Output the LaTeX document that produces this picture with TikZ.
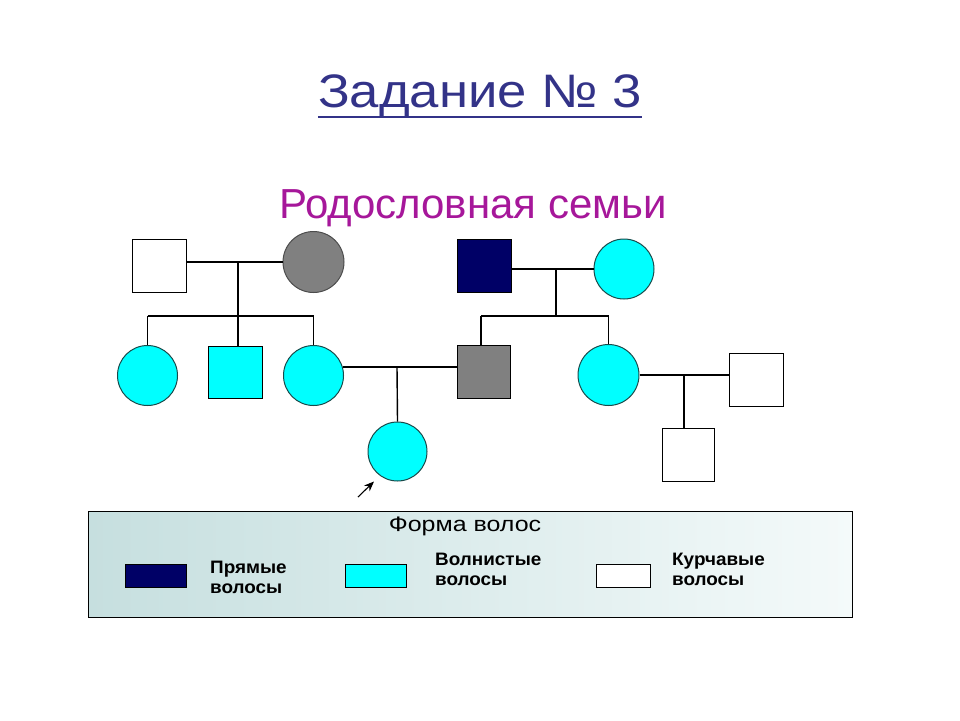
\documentclass[tikz,border=0pt]{standalone}
\usepackage{fontspec}
\setmainfont{Liberation Sans}
\newfontfamily\titlefont[FakeStretch=1.12]{Liberation Sans}
\newfontfamily\headfont[FakeStretch=1.19]{Liberation Sans}
\newfontfamily\labfont[FakeStretch=1.05]{Liberation Sans}
\usetikzlibrary{arrows.meta}
\definecolor{titleblue}{HTML}{333388}
\definecolor{submag}{HTML}{A6179A}
\definecolor{cyanf}{HTML}{00FFFF}
\definecolor{grayf}{HTML}{808080}
\definecolor{navyf}{HTML}{000066}
\definecolor{circedge}{HTML}{1A4A4A}
\definecolor{legL}{HTML}{C6DFDF}
\definecolor{legR}{HTML}{F4FAFA}
\tikzset{
  sq/.style={rectangle, draw=black, line width=1pt, minimum width=54pt, minimum height=53pt, inner sep=0pt},
  circ/.style={circle, draw=circedge, line width=1pt, minimum size=60pt, inner sep=0pt},
  link/.style={draw=black, line width=1.4pt},
  legsw/.style={rectangle, draw=black, line width=0.8pt, minimum width=61pt, minimum height=23pt, inner sep=0pt},
  legtxt/.style={anchor=base west, align=left, font=\labfont\fontsize{18}{19.5}\selectfont\bfseries, inner sep=0pt}
}
\begin{document}
\begin{tikzpicture}[x=1pt,y=-1pt]
\useasboundingbox (0,0) rectangle (960,720);
% titles
\node[anchor=base, text=titleblue, inner sep=0pt, font=\titlefont\fontsize{47}{50}\selectfont] (title) at (480,107) {Задание № 3};
\draw[titleblue, line width=2.8pt] (title.west |- 0,117) -- (title.east |- 0,117);
\node[anchor=base, text=submag, inner sep=0pt, font=\fontsize{42}{44}\selectfont] (sub) at (473,218) {Родословная семьи};
% generation 1
\node[sq, fill=white] (f1) at (159,265.5) {};
\node[circ, fill=grayf, draw=black!70, minimum size=61pt] (m1) at (313.5,262) {};
\node[sq, fill=navyf] (f2) at (484,266) {};
\node[circ, fill=cyanf] (m2) at (624,269) {};
% generation 2
\node[circ, fill=cyanf] (c1) at (147.5,375.5) {};
\node[sq, fill=cyanf, minimum height=52pt] (c2) at (235,372) {};
\node[circ, fill=cyanf] (c3) at (313.5,375.5) {};
\node[sq, fill=grayf, minimum width=53pt] (g) at (483.5,371.5) {};
\node[circ, fill=cyanf, minimum size=61pt] (c4) at (608.5,375) {};
\node[sq, fill=white] (h) at (756,379.5) {};
% generation 3
\node[circ, fill=cyanf, minimum size=59pt] (ch) at (397.5,451.5) {};
\node[sq, fill=white, minimum width=52pt] (k) at (688,454.5) {};
% connector points
\coordinate (d1) at (238,262);
\coordinate (b1) at (238,316);
\coordinate (d2) at (556,269);
\coordinate (b2) at (556,316);
\coordinate (gtop) at (481,316);
\coordinate (d3) at (397,367);
\coordinate (d4) at (684,375);
% marriage 1
\draw[link] (f1.east |- m1.west) -- (m1.west);
\draw[link] (d1) -- (b1);
\draw[link] (c1.north |- b1) -- (c3.north |- b1);
\draw[link] (c1.north |- b1) -- (c1.north);
\draw[link] (b1) -- (b1 |- c2.north);
\draw[link] (c3.north |- b1) -- (c3.north);
% marriage 2
\draw[link] (m2.west -| f2.east) -- (m2.west);
\draw[link] (d2) -- (b2);
\draw[link] (gtop) -- (c4.north |- b2);
\draw[link] (gtop) -- (gtop |- g.north);
\draw[link] (c4.north |- b2) -- (c4.north);
% marriage 3
\draw[link] (c3.16) -- (c3.16 -| g.west);
\draw[link] (d3) -- (ch.north);
% marriage 4
\draw[link] (c4.east) -- (c4.east -| h.west);
\draw[link] (d4) -- (d4 |- k.north);
% arrow
\coordinate (a0) at (358,497);
\coordinate (a1) at (374,481.5);
\draw[line width=1.1pt, -{Stealth[length=10pt, width=8pt]}] (a0) -- (a1);
% legend
\node[rectangle, draw=black, line width=0.8pt, left color=legL, right color=legR, minimum width=764pt, minimum height=106pt, inner sep=0pt] (leg) at (470,564) {};
\node[anchor=base, inner sep=0pt, font=\headfont\fontsize{21}{23}\selectfont] (legt) at (465,531) {Форма волос};
\node[legsw, fill=navyf] (s1) at (155.5,575.5) {};
\node[legsw, fill=cyanf] (s2) at (375.5,575.5) {};
\node[legsw, fill=white, minimum width=54pt] (s3) at (623,575.5) {};
\node[legtxt] (t1) at (210,593) {Прямые\\волосы};
\node[legtxt] (t2) at (435,585) {Волнистые\\волосы};
\node[legtxt] (t3) at (672,585) {Курчавые\\волосы};
\end{tikzpicture}
\end{document}
